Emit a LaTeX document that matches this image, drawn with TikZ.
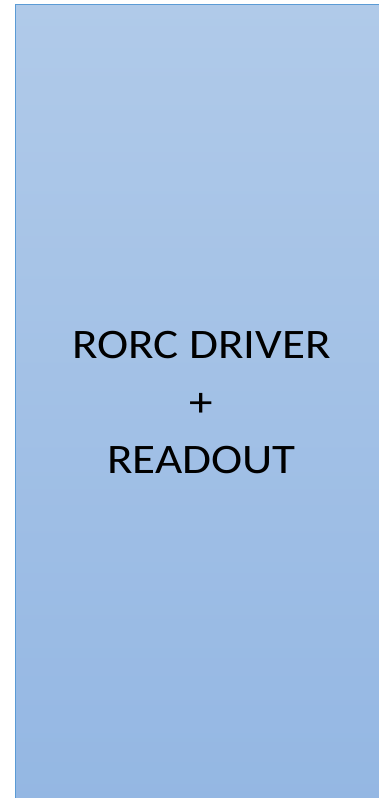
\documentclass[tikz,border=0pt]{standalone}
\usepackage{fontspec}
\setmainfont{Carlito}
\usepackage{xcolor}
\usepackage{graphicx}
\usepackage{tikz}
\usetikzlibrary{positioning}
\definecolor{edgeblue}{RGB}{91,155,213}
\definecolor{topblue}{RGB}{176,202,233}
\definecolor{bottomblue}{RGB}{148,183,227}
\newcommand{\widetext}[1]{\raisebox{-2.5pt}{\scalebox{1.12}[1]{\begin{tabular}{@{}c@{}}#1\end{tabular}}}}
\tikzset{
  modulebox/.style={draw=edgeblue, line width=1.5pt, top color=topblue, bottom color=bottomblue,
    minimum width=372pt, minimum height=800pt, inner sep=0pt,
    align=center, font=\fontsize{42}{57.5}\selectfont, text=black}
}
\begin{document}
\begin{tikzpicture}[x=1pt, y=1pt]
\useasboundingbox (0,0) rectangle (379,-798);
\clip (0,0) rectangle (379,-798);
\node[modulebox] (rorc) at (201.5,-404.5) {\widetext{RORC DRIVER\\+\\READOUT}};
\end{tikzpicture}
\end{document}
